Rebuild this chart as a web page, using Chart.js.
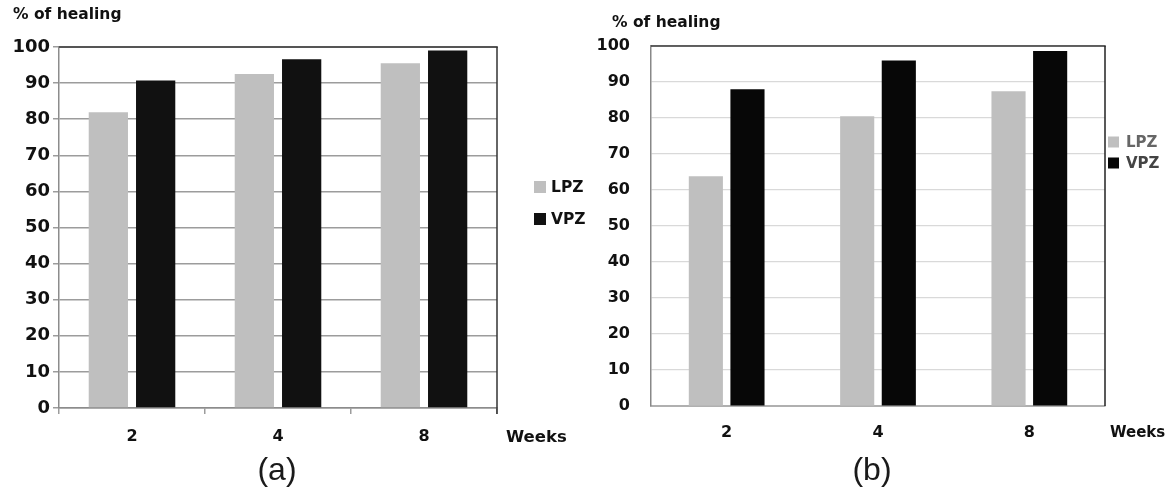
<!DOCTYPE html>
<html><head><meta charset="utf-8">
<script src="https://cdn.jsdelivr.net/npm/chart.js@4"></script>
<style>
html,body{margin:0;padding:0;background:#fff;width:1168px;height:495px;overflow:hidden;position:relative}
canvas{position:absolute;top:0}
</style></head><body>
<canvas id="ca" width="600" height="495" style="left:0"></canvas>
<canvas id="cb" width="584" height="495" style="left:584px"></canvas>
<script>
// ---- data ----
const weeks = ['2', '4', '8'];
const seriesNames = ['LPZ', 'VPZ'];
const lpzA = [81.9, 92.5, 95.5];
const vpzA = [90.7, 96.6, 99.0];
const lpzB = [63.8, 80.5, 87.4];
const vpzB = [88.0, 96.0, 98.6];
const yMin = 0, yMax = 100, yStep = 10;

Chart.defaults.font.family = "'DejaVu Sans', sans-serif";
Chart.defaults.color = '#111';

const decor = {
  id: 'decor',
  afterDraw(chart, args, o) {
    const {ctx, chartArea: a} = chart;
    ctx.save();
    const line = (x1, y1, x2, y2, c, w) => {
      ctx.beginPath(); ctx.strokeStyle = c; ctx.lineWidth = w;
      ctx.moveTo(x1, y1); ctx.lineTo(x2, y2); ctx.stroke();
    };
    line(a.left, a.top, a.right + o.rightWidth / 2, a.top, o.topColor, o.topWidth);
    line(a.right, a.top, a.right, a.bottom + o.rightExt, o.rightColor, o.rightWidth);
    ctx.textBaseline = 'middle';
    ctx.fillStyle = '#111';
    ctx.font = o.titleFont; ctx.textAlign = 'left';
    ctx.fillText(o.title, o.titleX, o.titleY);
    ctx.font = o.xTitleFont;
    ctx.fillText(o.xTitle, o.xTitleX, o.xTitleY);
    ctx.fillStyle = '#1a1a1a';
    ctx.font = o.capFont; ctx.textAlign = 'center';
    ctx.fillText(o.caption, o.capX, o.capY);
    chart.data.datasets.forEach((ds, i) => {
      const y = o.legY[i];
      ctx.fillStyle = ds.backgroundColor;
      ctx.fillRect(o.legX, y - o.legSize / 2, o.legSize, o.legSize);
      ctx.fillStyle = o.legColors[i];
      ctx.font = o.legFont; ctx.textAlign = 'left';
      ctx.fillText(ds.label, o.legTextX, y + 1);
    });
    ctx.restore();
  }
};

function makeChart(id, lpz, vpz, cfg) {
  return new Chart(document.getElementById(id), {
    type: 'bar',
    data: {
      labels: weeks,
      datasets: [
        {label: seriesNames[0], data: lpz, backgroundColor: '#bfbfbf', borderWidth: 0,
         categoryPercentage: cfg.catPct, barPercentage: cfg.barPct},
        {label: seriesNames[1], data: vpz, backgroundColor: cfg.dark, borderWidth: 0,
         categoryPercentage: cfg.catPct, barPercentage: cfg.barPct}
      ]
    },
    options: {
      responsive: false,
      animation: false,
      layout: {padding: cfg.padding},
      plugins: {legend: {display: false}, tooltip: {enabled: false}, decor: cfg.decor},
      scales: {
        x: {
          afterFit: s => { s.height = 40; },
          grid: {display: true, drawOnChartArea: false, drawTicks: cfg.xTicks, tickLength: 6,
                 color: cfg.gridColor, lineWidth: 1.5, offset: true},
          border: {display: true, color: cfg.bottomColor, width: cfg.bottomWidth},
          ticks: {font: {size: cfg.xFont, weight: 'bold'}, color: '#111', padding: cfg.xPad, maxRotation: 0}
        },
        y: {
          min: yMin, max: yMax,
          afterFit: s => { s.width = cfg.yWidth; },
          grid: {color: cfg.gridColor, lineWidth: cfg.gridWidth, drawTicks: cfg.yTicks, tickLength: 6},
          border: {display: true, color: cfg.leftColor, width: 1.5},
          ticks: {stepSize: yStep, font: {size: cfg.yFont, weight: 'bold'}, color: '#111', padding: cfg.yPad}
        }
      }
    },
    plugins: [decor]
  });
}

makeChart('ca', lpzA, vpzA, {
  catPct: 0.648, barPct: 0.83, dark: '#111111',
  padding: {top: 47, left: 0, right: 103, bottom: 47},
  xTicks: true, yTicks: true, gridColor: '#9c9c9c', gridWidth: 1.5,
  bottomColor: '#8c8c8c', bottomWidth: 1.5, leftColor: '#8c8c8c',
  xFont: 16, xPad: 13, yFont: 18, yPad: 3, yWidth: 59,
  decor: {
    topColor: '#555', topWidth: 2, rightColor: '#333', rightWidth: 1.5, rightExt: 6,
    title: '% of healing', titleX: 13, titleY: 15, titleFont: 'bold 15.5px "DejaVu Sans"',
    xTitle: 'Weeks', xTitleX: 506, xTitleY: 438, xTitleFont: 'bold 16.5px "DejaVu Sans"',
    caption: '(a)', capX: 277, capY: 471, capFont: '32px "Liberation Sans"',
    legX: 534, legSize: 12, legTextX: 551, legY: [187, 219],
    legFont: 'bold 15.5px "DejaVu Sans"', legColors: ['#111', '#111']
  }
});

makeChart('cb', lpzB, vpzB, {
  catPct: 0.55, barPct: 0.82, dark: '#070707',
  padding: {top: 46, left: 0, right: 63, bottom: 49},
  xTicks: false, yTicks: false, gridColor: '#d9d9d9', gridWidth: 1.2,
  bottomColor: '#b0b0b0', bottomWidth: 2, leftColor: '#888',
  xFont: 16, xPad: 17, yFont: 16, yPad: 21, yWidth: 67,
  decor: {
    topColor: '#333', topWidth: 1.5, rightColor: '#222', rightWidth: 1.5, rightExt: 0,
    title: '% of healing', titleX: 28, titleY: 23, titleFont: 'bold 15.5px "DejaVu Sans"',
    xTitle: 'Weeks', xTitleX: 526, xTitleY: 433, xTitleFont: 'bold 15px "DejaVu Sans"',
    caption: '(b)', capX: 288, capY: 471, capFont: '32px "Liberation Sans"',
    legX: 524, legSize: 11, legTextX: 542, legY: [142, 163],
    legFont: 'bold 15px "DejaVu Sans"', legColors: ['#666', '#444']
  }
});
</script>
</body></html>
